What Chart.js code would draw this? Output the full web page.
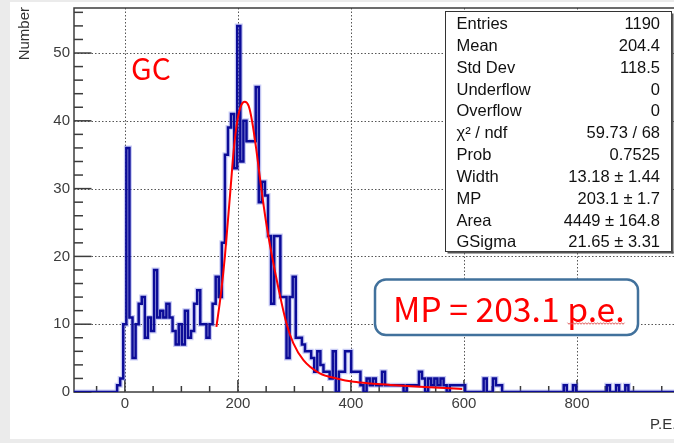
<!DOCTYPE html>
<html>
<head>
<meta charset="utf-8">
<title>GC P.E. spectrum</title>
<script src="https://cdn.jsdelivr.net/npm/chart.js@4.4.1/dist/chart.umd.min.js"></script>
<style>
  html, body { margin: 0; padding: 0; }
  body { width: 674px; height: 443px; overflow: hidden; background: #ebebeb; position: relative; }
  #sheet { position: absolute; left: 10px; top: 2px; width: 700px; height: 437px; background: #fff; }
  #spectrum { position: absolute; left: 0; top: 0; }
</style>
</head>
<body>
<div id="sheet"></div>
<canvas id="spectrum" width="710" height="443"></canvas>
<script>
// Histogram binning (P.E.)
const xMin = -90;
const xMax = 1000;
const nBins = 200;

// Bin contents, nBins bins from xMin to xMax
const binCounts = [
  0, 0, 0, 0, 0, 0, 0, 0, 0, 0,
  0, 0, 0, 0, 0, 1, 2, 10, 36, 11,
  5, 10, 13, 14, 8, 11, 9, 18, 11, 12,
  11, 13, 11, 9, 7, 10, 7, 12, 8, 9,
  13, 15, 10, 10, 8, 10, 13, 17, 14, 22,
  35, 39, 41, 33, 54, 34, 40, 37, 37, 37,
  45, 28, 31, 29, 23, 13, 23, 23, 14, 14,
  5, 14, 17, 8, 8, 7, 6, 6, 5, 3,
  6, 4, 3, 3, 2, 6, 0, 3, 3, 6,
  6, 3, 3, 3, 1, 0, 2, 1, 2, 1,
  1, 3, 1, 1, 1, 1, 1, 1, 0, 1,
  1, 1, 1, 3, 2, 0, 2, 1, 2, 1,
  2, 1, 0, 1, 1, 1, 1, 1, 0, 0,
  0, 0, 0, 0, 2, 0, 0, 2, 1, 1,
  0, 0, 0, 0, 0, 0, 0, 0, 0, 0,
  0, 0, 0, 0, 0, 0, 0, 0, 0, 0,
  1, 0, 0, 1, 0, 0, 0, 0, 0, 0,
  0, 0, 0, 0, 1, 0, 0, 1, 0, 0,
  1, 0, 0, 0, 0, 0, 0, 0, 0, 0,
  0, 0, 0, 0, 0, 0, 0, 0, 0, 0
];

// Landau (x) Gauss fit curve, sampled along the drawn line
const fitX = [162, 170, 177, 187, 193, 199, 206, 212, 219, 225, 233, 241, 250, 260, 272, 286, 298, 316, 345, 375, 405, 435, 470, 530, 597];
const fitY = [9.6, 14.5, 20, 30, 36, 40, 42.3, 42.8, 42.2, 40, 35.5, 30.3, 25, 20.2, 15.2, 10.1, 7.2, 4.7, 2.75, 2.0, 1.5, 1.25, 1.05, 0.75, 0.45];

// Axis ticks
const xTickValues = [0, 200, 400, 600, 800];
const yTickValues = [0, 10, 20, 30, 40, 50];
const yMax = 56.64;

// Stats box rows
const statsLabels = ['Entries', 'Mean', 'Std Dev', 'Underflow', 'Overflow', 'χ² / ndf', 'Prob', 'Width', 'MP', 'Area', 'GSigma'];
const statsValues = ['1190', '204.4', '118.5', '0', '0', '59.73 / 68', '0.7525', '13.18 ± 1.44', '203.1 ± 1.7', '4449 ± 164.8', '21.65 ± 3.31'];

// Most probable value from the fit
const mpValue = 203.1;

const axisFont = { family: '"Liberation Sans", Arial, sans-serif', size: 15 };
const axisColor = '#3c3c3c';

const binWidth = (xMax - xMin) / nBins;

/**
 * Step outline points: one per bin low edge, plus the last high edge
 */
function histogramPoints() {
  const pts = binCounts.map((c, i) => ({ x: xMin + i * binWidth, y: c }));
  pts.push({ x: xMax, y: binCounts[nBins - 1] });
  return pts;
}

function strokeLine(ctx, x1, y1, x2, y2) {
  ctx.beginPath();
  ctx.moveTo(x1, y1);
  ctx.lineTo(x2, y2);
  ctx.stroke();
}

function roundRect(ctx, x, y, w, h, r) {
  ctx.beginPath();
  ctx.moveTo(x + r, y);
  ctx.lineTo(x + w - r, y);
  ctx.arcTo(x + w, y, x + w, y + r, r);
  ctx.lineTo(x + w, y + h - r);
  ctx.arcTo(x + w, y + h, x + w - r, y + h, r);
  ctx.lineTo(x + r, y + h);
  ctx.arcTo(x, y + h, x, y + h - r, r);
  ctx.lineTo(x, y + r);
  ctx.arcTo(x, y, x + r, y, r);
  ctx.closePath();
}

// Fixed axis boxes so the frame lands where the ROOT pad has it
function fixScaleBox(scale, size) {
  if (scale.isHorizontal()) scale.height = size; else scale.width = size;
  scale.paddingTop = 0;
  scale.paddingBottom = 0;
  scale.paddingLeft = 0;
  scale.paddingRight = 0;
}

/**
 * Frame, dotted grid and inward ticks (ROOT style)
 */
const framePlugin = {
  id: 'rootFrame',
  beforeDatasetsDraw(chart) {
    const { ctx, chartArea: a, scales: { x, y } } = chart;
    ctx.save();

    // dotted grid at the labelled ticks
    ctx.strokeStyle = '#555';
    ctx.lineWidth = 1;
    ctx.setLineDash([1.5, 2]);
    xTickValues.forEach(v => {
      const px = Math.round(x.getPixelForValue(v)) + 0.5;
      strokeLine(ctx, px, a.top, px, a.bottom);
    });
    yTickValues.forEach(v => {
      if (v === 0) return;
      const py = Math.round(y.getPixelForValue(v)) + 0.5;
      strokeLine(ctx, a.left, py, a.right, py);
    });
    ctx.setLineDash([]);

    // ticks on the inside of the axes
    ctx.strokeStyle = axisColor;
    ctx.lineWidth = 1.5;
    for (let v = 0; v <= yMax; v += 2) {
      const py = y.getPixelForValue(v);
      const len = v % 10 === 0 ? 17.5 : 9;
      strokeLine(ctx, a.left, py, a.left + len, py);
    }
    for (let v = -50; v < xMax; v += 50) {
      const px = x.getPixelForValue(v);
      const len = v % 200 === 0 ? 12 : 6;
      strokeLine(ctx, px, a.bottom, px, a.bottom - len);
    }

    // frame
    ctx.strokeRect(a.left, a.top, a.right - a.left, a.bottom - a.top);
    ctx.restore();
  },

  afterDraw(chart) {
    const { ctx, chartArea: a } = chart;
    ctx.save();

    // axis titles
    ctx.fillStyle = '#333';
    ctx.font = '15px "Liberation Sans", Arial, sans-serif';
    ctx.textBaseline = 'middle';
    ctx.textAlign = 'left';
    ctx.fillText('P.E.', 650, 425);
    ctx.save();
    ctx.translate(25, a.top - 1);
    ctx.rotate(-Math.PI / 2);
    ctx.textAlign = 'right';
    ctx.fillText('Number', 0, 0);
    ctx.restore();

    // "GC" tag
    ctx.fillStyle = '#ff0000';
    ctx.font = '30px "Noto Sans CJK SC", "Open Sans", sans-serif';
    ctx.textAlign = 'center';
    ctx.fillText('GC', 151, 69);

    // stats box
    const bx = 445.5, by = 11.5, bw = 226, bh = 240;
    ctx.fillStyle = '#fff';
    ctx.fillRect(bx, by, bw, bh);
    ctx.strokeStyle = '#333';
    ctx.lineWidth = 1;
    ctx.strokeRect(bx, by, bw, bh);
    ctx.fillStyle = '#555';
    ctx.fillRect(bx + bw, by + 2, 2, bh);
    ctx.fillRect(bx + 2, by + bh, bw, 2);

    ctx.fillStyle = '#111';
    ctx.font = '16.5px "Liberation Sans", Arial, sans-serif';
    const rowH = bh / statsLabels.length;
    statsLabels.forEach((label, i) => {
      const ty = by + rowH * (i + 0.6);
      ctx.textAlign = 'left';
      ctx.fillText(label, 456.5, ty);
      ctx.textAlign = 'right';
      ctx.fillText(statsValues[i], 660, ty);
    });

    // MP callout
    roundRect(ctx, 375, 279.5, 263, 55.5, 11);
    ctx.fillStyle = '#fff';
    ctx.fill();
    ctx.strokeStyle = '#41719c';
    ctx.lineWidth = 2.5;
    ctx.stroke();

    const mpText = 'MP = ' + mpValue.toFixed(1) + ' p.e.';
    ctx.font = '34px "Noto Sans CJK SC", "Open Sans", sans-serif';
    const w = ctx.measureText(mpText).width;
    const size = 34 * 232 / w;
    ctx.font = size.toFixed(1) + 'px "Noto Sans CJK SC", "Open Sans", sans-serif';
    ctx.fillStyle = '#ff0000';
    ctx.textAlign = 'left';
    ctx.textBaseline = 'alphabetic';
    ctx.fillText(mpText, 393, 321.5);

    // spell-check squiggle under "p.e."
    const tailW = ctx.measureText('p.e.').width;
    const sx = 393 + 232 - tailW;
    ctx.strokeStyle = '#e05a5a';
    ctx.lineWidth = 1;
    ctx.beginPath();
    for (let px = sx, k = 0; px <= 393 + 232; px += 1.5, k++) {
      const py = 323.5 + (k % 2 === 0 ? -0.8 : 0.8);
      if (k === 0) ctx.moveTo(px, py); else ctx.lineTo(px, py);
    }
    ctx.stroke();

    ctx.restore();
  }
};

function initSpectrumChart() {
  const canvas = document.getElementById('spectrum');
  const hist = histogramPoints();

  new Chart(canvas, {
    type: 'line',
    data: {
      datasets: [
        {
          label: 'fit',
          data: fitX.map((x, i) => ({ x: x, y: fitY[i] })),
          borderColor: '#ff0000',
          borderWidth: 2,
          pointRadius: 0,
          tension: 0.4,
          cubicInterpolationMode: 'monotone',
          fill: false,
          order: 0
        },
        {
          label: 'GC',
          data: hist,
          stepped: 'after',
          borderColor: '#0c0c98',
          borderWidth: 2.5,
          borderJoinStyle: 'miter',
          pointRadius: 0,
          fill: false,
          order: 1
        },
        {
          label: 'halo',
          data: hist,
          stepped: 'after',
          borderColor: 'rgba(100, 110, 225, 0.35)',
          borderWidth: 5,
          pointRadius: 0,
          fill: false,
          order: 2
        }
      ]
    },
    options: {
      responsive: false,
      animation: false,
      devicePixelRatio: 1,
      layout: { padding: { top: 8, right: 20, left: 0, bottom: 0 } },
      plugins: {
        legend: { display: false },
        tooltip: { enabled: false }
      },
      scales: {
        x: {
          type: 'linear',
          min: xMin,
          max: xMax,
          grid: { display: false, drawTicks: false },
          border: { display: false },
          afterBuildTicks: scale => { scale.ticks = xTickValues.map(v => ({ value: v })); },
          afterFit: scale => fixScaleBox(scale, 51),
          ticks: { padding: 3, font: axisFont, color: axisColor, maxRotation: 0, autoSkip: false }
        },
        y: {
          type: 'linear',
          min: 0,
          max: yMax,
          grid: { display: false, drawTicks: false },
          border: { display: false },
          afterBuildTicks: scale => { scale.ticks = yTickValues.map(v => ({ value: v })); },
          afterFit: scale => fixScaleBox(scale, 74),
          ticks: { padding: 4, font: axisFont, color: axisColor, autoSkip: false }
        }
      }
    },
    plugins: [framePlugin]
  });
}

initSpectrumChart();
</script>
</body>
</html>
